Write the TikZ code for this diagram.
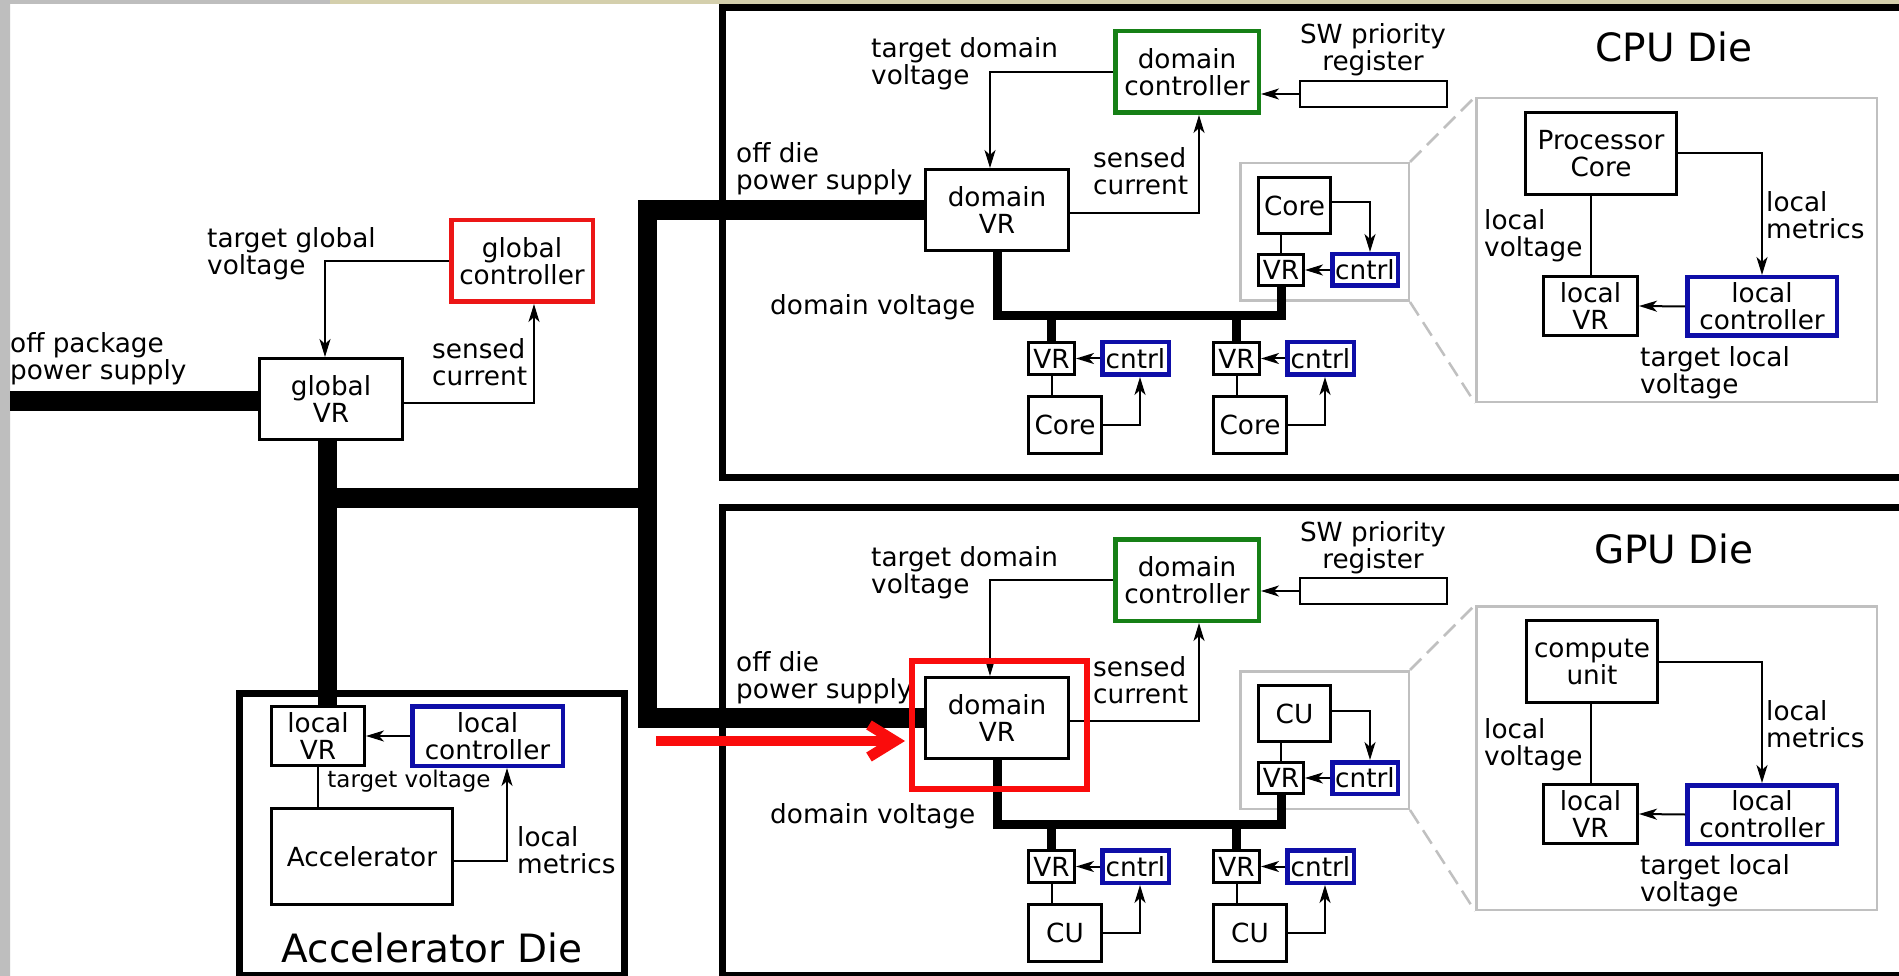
\documentclass[tikz,border=0pt]{standalone}
\usepackage{fontspec}
\setmainfont{DejaVu Sans}
\usetikzlibrary{arrows.meta}
\definecolor{ctlred}{RGB}{236,22,22}
\definecolor{hlred}{RGB}{250,12,12}
\definecolor{ctlgreen}{RGB}{22,128,22}
\definecolor{ctlblue}{RGB}{14,14,168}
\definecolor{zoomgray}{RGB}{192,192,192}
\definecolor{edgegray}{RGB}{190,190,190}
\definecolor{edgebeige}{RGB}{212,207,172}
\tikzset{
  every node/.style={font=\fontsize{26.3}{27}\selectfont, inner sep=0pt},
  sz/.style 2 args={minimum width=#1pt, minimum height=#2pt},
  box/.style={draw, line width=3pt, align=center},
  redbox/.style={box, draw=ctlred, line width=4.5pt},
  grnbox/.style={box, draw=ctlgreen, line width=4.5pt},
  bluebox/.style={box, draw=ctlblue, line width=4.5pt},
  lbl/.style={anchor=base west, align=left},
  ttl/.style={anchor=base, font=\fontsize{39}{42}\selectfont},
  bus/.style={line width=19.5pt},
  dvline/.style={line width=9pt},
  wire/.style={line width=2pt},
  sig/.style={wire, -{Stealth[length=18pt,width=11pt,inset=5pt]}},
  diebox/.style={line width=7pt},
  zoombox/.style={draw=zoomgray, line width=2.5pt},
  zoomdash/.style={draw=zoomgray, line width=2.5pt, dash pattern=on 16pt off 8pt},
  hlarrow/.style={hlred, line width=10.5pt, -{Straight Barb[length=26pt,width=32pt]}},
}
\begin{document}
\begin{tikzpicture}[x=1pt,y=-1pt]
\useasboundingbox (0,0) rectangle (1899,976);
\clip (0,0) rectangle (1899,976);
\fill[white] (0,0) rectangle (1899,976);
\fill[edgegray] (0,0) rectangle (10,976) (0,0) rectangle (330,4);
\fill[edgebeige] (330,0) rectangle (1899,4);

% die outlines
\draw[diebox] (722,8) rectangle (1920,477);
\draw[diebox] (722,507.5) rectangle (1920,975.5);
\draw[diebox] (239,693) rectangle (624,975.5);

% package level
\node[redbox, sz={141.5}{81.5}] (gc) at (522,261) {global\\controller};
\node[box, sz={143}{81}] (gvr) at (331,399) {global\\VR};
\node[lbl] (lpkg) at (10,380) {off package\\power supply};
\node[lbl] (ltgv) at (207,275) {target global\\voltage};
\node[lbl] (lsc) at (432,385) {sensed\\current};
\draw[sig] (gc.west) -| ([xshift=-6pt]gvr.north);
\draw[sig] ([yshift=-4pt]gvr.east) -| ([xshift=12pt]gc.south);

% accelerator die
\node[box, sz={93}{59}] (lvra) at (318,736) {local\\VR};
\node[bluebox, sz={150.5}{59.5}] (lca) at (487.5,736) {local\\controller};
\node[box, sz={181}{96}] (acc) at (362,856.5) {Accelerator};
\node[anchor=base, font=\fontsize{23}{25}\selectfont] (ltv) at (409,787) {target voltage};
\node[lbl] (llma) at (517,873) {local\\metrics};
\node[ttl] (tacc) at (432,962) {Accelerator Die};
\draw[sig] (lca.west) -- (lvra.east);
\draw[wire] (lvra.south) -- (lvra.south |- acc.north);
\draw[sig] ([yshift=-4.5pt]acc.east) -| ([xshift=19.5pt]lca.south);

% CPU and GPU dies
\foreach \nm/\unit/\pcu/\pcx/\pcw/\rs/\ts [count=\i from 0] in
  {CPU/Core/{Processor\\Core}/1601/151/0/0, GPU/CU/{compute\\unit}/1592/131/-11/-7}{
  \begin{scope}[yshift=-\i*508pt]
    \node[grnbox, sz={143.5}{81.5}] (dc\nm) at (1187,72) {domain\\controller};
    \node[box, sz={143}{81}] (dvr\nm) at (997,210) {domain\\VR};
    \node[box, line width=2pt, sz={147}{26}] (reg\nm) at (1373.5,94+\rs) {};
    \node[anchor=base, align=center] (lsw\nm) at (1373,71+\rs) {SW priority\\register};
    \node[lbl] (ltdv\nm) at (871,85) {target domain\\voltage};
    \node[lbl] (lodp\nm) at (736,190) {off die\\power supply};
    \node[lbl] (lsc\nm) at (1093,195) {sensed\\current};
    \node[lbl] (ldv\nm) at (770,315) {domain voltage};
    \node[ttl] (t\nm) at (1674,62+\ts) {\nm\ Die};
    \draw[sig] (dc\nm.west) -| ([xshift=-7pt]dvr\nm.north);
    \draw[sig] ([yshift=-3pt]dvr\nm.east) -| ([xshift=12pt]dc\nm.south);
    \draw[sig] (reg\nm.west) -- (reg\nm.west -| dc\nm.east);
    % zoomed unit
    \node[zoombox, sz={168.5}{137.5}] (ib\nm) at (1324.5,232) {};
    \node[zoombox, sz={400.5}{303.5}] (zb\nm) at (1676.5,250) {};
    \draw[zoomdash] (ib\nm.north east) -- (zb\nm.north west)
                    (ib\nm.south east) -- (zb\nm.south west);
    \node[box, sz={72}{56}] (ic\nm) at (1294.5,205.5) {\unit};
    \node[box, sz={45}{31}] (ivr\nm) at (1281,270) {VR};
    \node[bluebox, sz={65.5}{31.5}] (icn\nm) at (1365,270) {cntrl};
    \draw[wire] (ivr\nm.north) -- (ivr\nm.north |- ic\nm.south);
    \draw[sig] ([yshift=3pt]ic\nm.east) -| ([xshift=5pt]icn\nm.north);
    \draw[sig] (icn\nm.west) -- (ivr\nm.east);
    \node[box, sz={\pcw}{82}] (pc\nm) at (\pcx,153.5) {\pcu};
    \node[box, sz={94}{59}] (lvr\nm) at (1590.5,306) {local\\VR};
    \node[bluebox, sz={149.5}{58.5}] (lc\nm) at (1762,306.5) {local\\controller};
    \node[lbl] (llv\nm) at (1484,257) {local\\voltage};
    \node[lbl] (llm\nm) at (1766,239) {local\\metrics};
    \node[lbl] (ltl\nm) at (1640,393) {target local\\voltage};
    \draw[wire] (lvr\nm.north) -- (lvr\nm.north |- pc\nm.south);
    \draw[sig] (pc\nm.east) -| (lc\nm.north);
    \draw[sig] (lc\nm.west) -- (lvr\nm.east);
    % other units
    \foreach \s/\sx in {a/0,b/185}{
      \node[box, sz={46}{32}] (vr\s\nm) at (1051.5+\sx,358.5) {VR};
      \node[bluebox, sz={66.5}{32.5}] (cn\s\nm) at (1135.5+\sx,358.5) {cntrl};
      \node[box, sz={73}{57}] (co\s\nm) at (1065+\sx,425) {\unit};
      \draw[sig] (cn\s\nm.west) -- (vr\s\nm.east);
      \draw[wire] (vr\s\nm.south) -- (vr\s\nm.south |- co\s\nm.north);
      \draw[sig] (co\s\nm.east) -| ([xshift=4.5pt]cn\s\nm.south);
    }
    % domain voltage rail
    \coordinate (dv\nm) at (1000,316);
    \draw[dvline] (dvr\nm.south) |- (dv\nm -| ivr\nm.south) -- (ivr\nm.south);
    \draw[dvline] (vra\nm.north) -- (vra\nm.north |- dv\nm)
                  (vrb\nm.north) -- (vrb\nm.north |- dv\nm);
  \end{scope}
}

% power delivery
\coordinate (pkg) at (10,401);
\coordinate (tap) at (327.5,498);
\coordinate (trk) at (647.5,498);
\draw[bus] (pkg) -- (pkg -| gvr.west);
\draw[bus] (gvr.south -| tap) -- (lvra.north -| tap);
\draw[bus] (tap) -- (trk);
\draw[bus] (dvrCPU.west) -| (trk) |- (dvrGPU.west);

% highlight
\node[draw=hlred, line width=6pt, sz={175}{128}] (hl) at (999.5,725) {};
\coordinate (ra) at (656,741);
\coordinate (rt) at ([xshift=-4pt]hl.west);
\draw[hlarrow] (ra) -- (ra -| rt);
\end{tikzpicture}
\end{document}
